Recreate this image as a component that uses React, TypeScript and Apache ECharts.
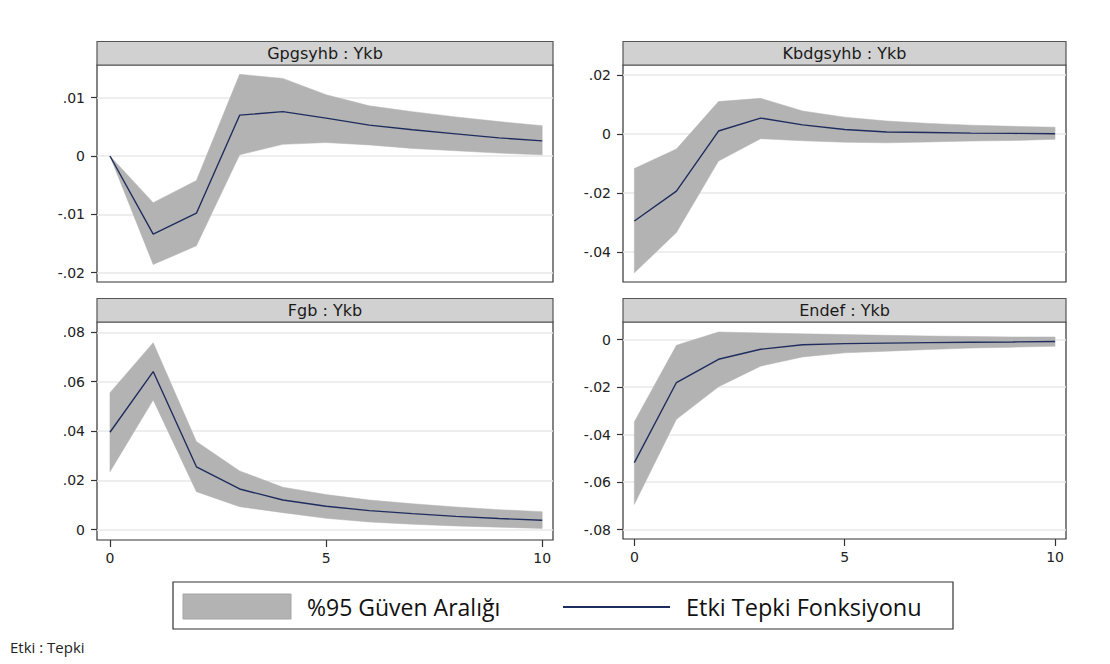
import React, { useEffect, useRef } from "react";
import * as echarts from "echarts";

const periods = [0, 1, 2, 3, 4, 5, 6, 7, 8, 9, 10];

const titles = ["Gpgsyhb : Ykb", "Kbdgsyhb : Ykb", "Fgb : Ykb", "Endef : Ykb"];

// Panel 1: Gpgsyhb : Ykb
const irf1 = [0, -0.0134, -0.0098, 0.0070, 0.0076, 0.0065, 0.0053, 0.0045, 0.0038, 0.0031, 0.0026];
const up1 = [0, -0.0080, -0.0042, 0.0140, 0.0133, 0.0105, 0.0086, 0.0076, 0.0067, 0.0059, 0.0052];
const lo1 = [0, -0.0186, -0.0154, 0.0002, 0.0020, 0.0023, 0.0019, 0.0013, 0.0009, 0.0005, 0.0002];

// Panel 2: Kbdgsyhb : Ykb
const irf2 = [-0.0295, -0.0194, 0.0010, 0.0054, 0.0031, 0.0015, 0.0007, 0.0005, 0.0003, 0.0002, 0.0001];
const up2 = [-0.0117, -0.0051, 0.0110, 0.0121, 0.0078, 0.0057, 0.0044, 0.0036, 0.0030, 0.0026, 0.0023];
const lo2 = [-0.0471, -0.0334, -0.0092, -0.0016, -0.0023, -0.0028, -0.0030, -0.0027, -0.0024, -0.0022, -0.0018];

// Panel 3: Fgb : Ykb
const irf3 = [0.0395, 0.0641, 0.0255, 0.0165, 0.0120, 0.0095, 0.0077, 0.0065, 0.0054, 0.0045, 0.0038];
const up3 = [0.0555, 0.0758, 0.0357, 0.0238, 0.0172, 0.0142, 0.0120, 0.0105, 0.0092, 0.0081, 0.0073];
const lo3 = [0.0235, 0.0526, 0.0154, 0.0093, 0.0069, 0.0046, 0.0031, 0.0022, 0.0015, 0.0010, 0.0005];

// Panel 4: Endef : Ykb
const irf4 = [-0.0518, -0.0181, -0.0083, -0.0041, -0.0022, -0.0017, -0.0015, -0.0013, -0.0011, -0.0010, -0.0008];
const up4 = [-0.0346, -0.0024, 0.0032, 0.0028, 0.0024, 0.0021, 0.0018, 0.0015, 0.0013, 0.0011, 0.0011];
const lo4 = [-0.0694, -0.0336, -0.0199, -0.0112, -0.0073, -0.0056, -0.0049, -0.0042, -0.0036, -0.0032, -0.0028];

const yTicks1 = [-0.02, -0.01, 0, 0.01];
const yTicks2 = [-0.04, -0.02, 0, 0.02];
const yTicks3 = [0, 0.02, 0.04, 0.06, 0.08];
const yTicks4 = [-0.08, -0.06, -0.04, -0.02, 0];
const xTicks = [0, 5, 10];

const legendLabels = ["%95 Güven Aralığı", "Etki Tepki Fonksiyonu"];
const noteText = "Etki : Tepki";

const BAND = "#b3b3b3";
const LINE = "#1f2d5e";
const FRAME = "#333333";
const GRIDLINE = "#e8e8e8";

const fmt = (v: number) => {
  if (Math.abs(v) < 1e-12) return "0";
  const s = Math.abs(v).toFixed(2).replace(/^0/, "");
  return (v < 0 ? "-" : "") + s;
};

export default function App() {
  const ref = useRef<HTMLDivElement>(null);
  useEffect(() => {
    if (!ref.current) return;
    const chart = echarts.init(ref.current, undefined, { renderer: "svg" });

    const panels = [
      { irf: irf1, up: up1, lo: lo1, yt: yTicks1, ymin: -0.0216, ymax: 0.0156, xmin: -0.3, xmax: 10.25, bottom: false },
      { irf: irf2, up: up2, lo: lo2, yt: yTicks2, ymin: -0.0502, ymax: 0.0234, xmin: -0.27, xmax: 10.26, bottom: false },
      { irf: irf3, up: up3, lo: lo3, yt: yTicks3, ymin: -0.0042, ymax: 0.0842, xmin: -0.3, xmax: 10.25, bottom: true },
      { irf: irf4, up: up4, lo: lo4, yt: yTicks4, ymin: -0.084, ymax: 0.0074, xmin: -0.27, xmax: 10.26, bottom: true },
    ];

    const gridRects = [
      { left: 97, top: 65, width: 456, height: 217 },
      { left: 623, top: 65, width: 443, height: 217 },
      { left: 97, top: 322, width: 456, height: 218 },
      { left: 623, top: 322, width: 443, height: 217 },
    ];

    const grid = gridRects.map((g) => ({
      ...g,
      show: true,
      borderColor: FRAME,
      borderWidth: 1.2,
      backgroundColor: "#ffffff",
      containLabel: false,
      outerBoundsMode: "none",
    }));

    const xAxis = panels.map((p, i) => ({
      type: "value",
      gridIndex: i,
      position: "bottom",
      min: p.xmin,
      max: p.xmax,
      axisLine: { show: false, onZero: false },
      splitLine: { show: false },
      axisTick: {
        show: p.bottom,
        customValues: xTicks,
        length: 7,
        lineStyle: { color: FRAME, width: 1.2 },
      },
      axisLabel: {
        show: p.bottom,
        customValues: xTicks,
        margin: 11,
        color: "#222",
        fontFamily: "DejaVu Sans",
        fontSize: 14,
      },
    }));

    const yAxis = panels.map((p, i) => ({
      type: "value",
      gridIndex: i,
      position: "left",
      min: p.ymin,
      max: p.ymax,
      axisLine: { show: false, onZero: false },
      splitLine: { show: true, lineStyle: { color: GRIDLINE, width: 1.5 } },
      axisTick: {
        show: true,
        customValues: p.yt,
        length: 6,
        lineStyle: { color: FRAME, width: 1.2 },
      },
      axisLabel: {
        show: true,
        customValues: p.yt,
        margin: 12,
        color: "#222",
        fontFamily: "DejaVu Sans",
        fontSize: 14,
        formatter: (v: number) => fmt(v),
      },
    }));

    const series: any[] = [];
    panels.forEach((p, i) => {
      series.push({
        type: "custom",
        name: legendLabels[0],
        xAxisIndex: i,
        yAxisIndex: i,
        data: periods.map((x, k) => [x, p.lo[k], p.up[k]]),
        encode: { x: 0, y: [1, 2] },
        silent: true,
        z: 2,
        renderItem: (params: any, api: any) => {
          if (params.dataIndex !== 0) return { type: "group", children: [] };
          const upper = periods.map((x, k) => api.coord([x, p.up[k]]));
          const lower = periods
            .map((x, k) => api.coord([x, p.lo[k]]))
            .reverse();
          return {
            type: "polygon",
            shape: { points: upper.concat(lower) },
            style: { fill: BAND, stroke: BAND, lineWidth: 0.5 },
          };
        },
      });
      series.push({
        type: "line",
        name: legendLabels[1],
        xAxisIndex: i,
        yAxisIndex: i,
        data: periods.map((x, k) => [x, p.irf[k]]),
        symbol: "none",
        lineStyle: { color: LINE, width: 1.4 },
        silent: true,
        z: 3,
      });
    });

    const headerFont = '16px "DejaVu Sans"';
    const graphic: any[] = [];
    gridRects.forEach((g, i) => {
      const hTop = g.top - 23.5;
      graphic.push({
        type: "rect",
        shape: { x: g.left, y: hTop, width: g.width, height: 23.5 },
        style: { fill: "#d1d1d1", stroke: "#555", lineWidth: 1.2 },
        z: 10,
      });
      graphic.push({
        type: "text",
        x: g.left + g.width / 2,
        y: hTop + 12,
        style: {
          text: titles[i],
          font: headerFont,
          fill: "#1a1a1a",
          align: "center",
          verticalAlign: "middle",
        },
        z: 11,
      });
    });

    // legend box
    graphic.push({
      type: "rect",
      shape: { x: 173, y: 582, width: 780, height: 47 },
      style: { fill: "#fff", stroke: FRAME, lineWidth: 1.2 },
      z: 10,
    });
    graphic.push({
      type: "rect",
      shape: { x: 183, y: 594, width: 108, height: 25 },
      style: { fill: BAND, stroke: "#a6a6a6", lineWidth: 1 },
      z: 11,
    });
    graphic.push({
      type: "text",
      x: 307,
      y: 607,
      style: {
        text: legendLabels[0],
        font: '23px "Open Sans"',
        fill: "#111",
        align: "left",
        verticalAlign: "middle",
      },
      z: 11,
    });
    graphic.push({
      type: "line",
      shape: { x1: 563, y1: 607, x2: 670, y2: 607 },
      style: { stroke: LINE, lineWidth: 2 },
      z: 11,
    });
    graphic.push({
      type: "text",
      x: 686,
      y: 607,
      style: {
        text: legendLabels[1],
        font: '23.5px "Open Sans"',
        fill: "#111",
        align: "left",
        verticalAlign: "middle",
      },
      z: 11,
    });
    graphic.push({
      type: "text",
      x: 10,
      y: 647,
      style: {
        text: noteText,
        font: '15px "Open Sans"',
        fill: "#222",
        align: "left",
        verticalAlign: "middle",
      },
      z: 11,
    });

    chart.setOption({
      animation: false,
      backgroundColor: "#ffffff",
      grid,
      xAxis,
      yAxis,
      series,
      graphic,
    } as any);

    return () => chart.dispose();
  }, []);

  return (
    <div
      ref={ref}
      style={{ position: "absolute", left: 0, top: 0, width: 1110, height: 664 }}
    />
  );
}
